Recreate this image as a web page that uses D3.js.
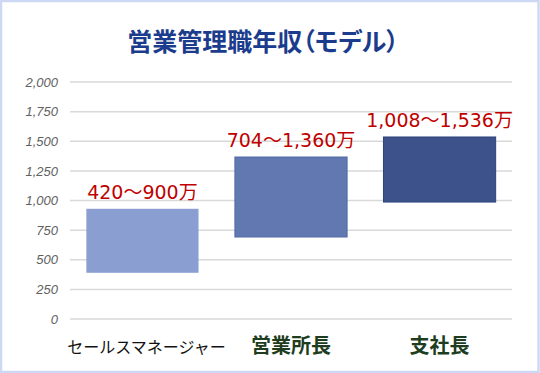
<!DOCTYPE html>
<html>
<head>
<meta charset="utf-8">
<script src="https://cdn.jsdelivr.net/npm/d3@7"></script>
<style>
  body { margin: 0; background: #fff; }
  text { font-family: "Noto Sans CJK JP", "Noto Sans", sans-serif; }
</style>
</head>
<body>
<div id="chart-area"></div>
<script>
// data
const categories = ['セールスマネージャー', '営業所長', '支社長'];
const lowValues = [390, 692, 987];
const highValues = [930, 1367, 1536];
const rangeLabels = ['420〜900万', '704〜1,360万', '1,008〜1,536万'];
const yTicks = [0, 250, 500, 750, 1000, 1250, 1500, 1750, 2000];

const W = 540, H = 373;
const margin = { top: 82, right: 28, bottom: 54, left: 70 };
const width = W - margin.left - margin.right;
const height = H - margin.top - margin.bottom;

const fills = ['#8a9ed1', '#6278b0', '#3d528b'];
const strokes = ['none', '#5068a4', '#2e437e'];

const svg = d3.select('#chart-area')
  .append('svg')
    .attr('width', W)
    .attr('height', H);

// frame
svg.append('rect')
  .attr('x', 1).attr('y', 1)
  .attr('width', W - 2.5).attr('height', H - 2)
  .attr('fill', '#fff')
  .attr('stroke', '#cdd9f4')
  .attr('stroke-width', 2.5);

svg.append('text')
  .attr('x', 263)
  .attr('y', 51)
  .attr('text-anchor', 'middle')
  .attr('font-size', 25)
  .attr('font-weight', 'bold')
  .attr('fill', '#1b3c8c')
  .style('font-feature-settings', '"palt"')
  .text('営業管理職年収（モデル）');

const g = svg.append('g')
  .attr('transform', 'translate(' + margin.left + ', ' + margin.top + ')');

const x = d3.scaleBand()
  .domain(categories)
  .range([0, width])
  .paddingInner(0.245)
  .paddingOuter(0.11);

const y = d3.scaleLinear()
  .domain([0, 2000])
  .range([height, 0]);

// gridlines
g.selectAll('.grid')
  .data(yTicks)
  .enter()
  .append('line')
    .attr('x1', 0)
    .attr('x2', width)
    .attr('y1', d => y(d))
    .attr('y2', d => y(d))
    .attr('stroke', '#d9d9d9')
    .attr('stroke-width', 1.5);

// y axis labels
const yAxisCall = d3.axisLeft(y)
  .tickValues(yTicks)
  .tickSize(0)
  .tickPadding(12)
  .tickFormat(d3.format(','));

const yAxisGroup = g.append('g').call(yAxisCall);
yAxisGroup.select('.domain').remove();
yAxisGroup.selectAll('text')
  .attr('font-style', 'italic')
  .attr('fill', '#5f5f5f')
  .style('font-family', '"Liberation Sans", Arial, sans-serif')
  .attr('font-size', 13);

// bars
g.selectAll('.bar')
  .data(categories)
  .enter()
  .append('rect')
    .attr('x', d => x(d))
    .attr('y', (d, i) => y(highValues[i]))
    .attr('width', x.bandwidth())
    .attr('height', (d, i) => y(lowValues[i]) - y(highValues[i]))
    .attr('fill', (d, i) => fills[i])
    .attr('stroke', (d, i) => strokes[i])
    .attr('stroke-width', 1);

// range labels
g.selectAll('.range-label')
  .data(categories)
  .enter()
  .append('text')
    .attr('x', d => x(d) + x.bandwidth() / 2)
    .attr('y', (d, i) => y(highValues[i]) - 10)
    .attr('text-anchor', 'middle')
    .attr('font-size', 19)
    .attr('fill', '#c00000')
    .style('font-family', '"DejaVu Sans", "Noto Sans CJK JP", sans-serif')
    .text((d, i) => rangeLabels[i]);

// x axis labels
const xAxisCall = d3.axisBottom(x).tickSize(0).tickPadding(0);
const xAxisGroup = g.append('g')
  .attr('transform', 'translate(0,' + height + ')')
  .call(xAxisCall);
xAxisGroup.select('.domain').remove();
xAxisGroup.selectAll('text')
  .attr('dy', 0)
  .attr('y', 34)
  .attr('dx', (d, i) => i === 0 ? 4 : 0)
  .attr('font-size', (d, i) => i === 0 ? 16 : 20)
  .attr('font-weight', (d, i) => i === 0 ? 'normal' : 'bold')
  .attr('fill', (d, i) => i === 0 ? '#111' : '#1e3d1e');
</script>
</body>
</html>
